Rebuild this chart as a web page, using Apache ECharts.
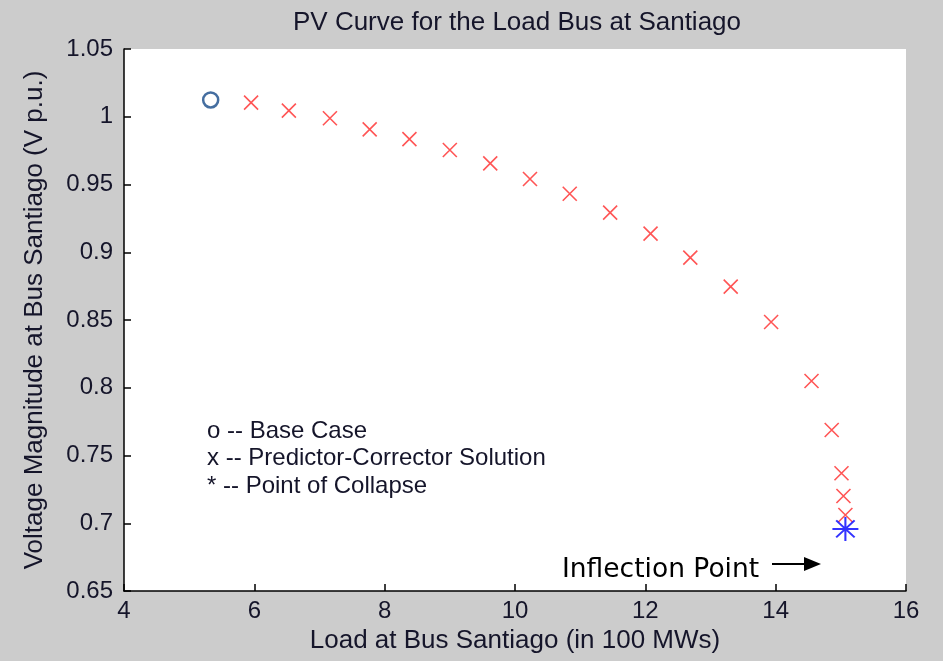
<!DOCTYPE html>
<html lang="en">
<head>
    <meta charset="utf-8">
    <title>PV Curve</title>
    <script src="https://cdn.jsdelivr.net/npm/echarts@6/dist/echarts.min.js"></script>
    <style>
        html, body { margin: 0; padding: 0; background: #cccccc; }
        #main { width: 943px; height: 661px; }
    </style>
</head>
<body>
    <div id="main"></div>
<script>
    // base case point (o)
    var baseX = [5.33];
    var baseY = [1.0124];
    // predictor-corrector solutions (x)
    var pcX = [5.95, 6.53, 7.16, 7.77, 8.38, 9.00, 9.62, 10.23, 10.84, 11.46,
               12.08, 12.69, 13.31, 13.93, 14.55, 14.86, 15.01, 15.04, 15.07];
    var pcY = [1.0104, 1.0045, 0.9989, 0.9907, 0.9835, 0.9755, 0.9656, 0.9541, 0.9432, 0.9292,
               0.9137, 0.8960, 0.8746, 0.8485, 0.8050, 0.7688, 0.7369, 0.7201, 0.7061];
    // point of collapse (*)
    var collapseX = [15.07];
    var collapseY = [0.6958];

    var xTicks = [4, 6, 8, 10, 12, 14, 16];
    var yTicks = [0.65, 0.7, 0.75, 0.8, 0.85, 0.9, 0.95, 1, 1.05];

    function pairs(xs, ys) {
        var out = [];
        for (var i = 0; i < xs.length; i++) out.push([xs[i], ys[i]]);
        return out;
    }

    var font = '"Liberation Sans", Arial, sans-serif';
    var textColor = '#15152a';

    var myChart = echarts.init(document.getElementById('main'));
    var option = {
        backgroundColor: '#cccccc',
        animation: false,
        title: {
            text: 'PV Curve for the Load Bus at Santiago',
            left: 512,
            textAlign: 'center',
            top: 5,
            textStyle: { fontFamily: font, fontSize: 26, fontWeight: 'normal', color: textColor }
        },
        grid: {
            left: 124, right: 37, top: 49, bottom: 70,
            show: true, backgroundColor: '#ffffff', borderWidth: 0
        },
        xAxis: {
            type: 'value',
            min: xTicks[0], max: xTicks[xTicks.length - 1], interval: 2,
            name: 'Load at Bus Santiago (in 100 MWs)',
            nameLocation: 'middle', nameGap: 37,
            nameTextStyle: { fontFamily: font, fontSize: 26, color: textColor },
            axisLine: { lineStyle: { color: '#000', width: 1.5 } },
            axisTick: { inside: true, length: 7, lineStyle: { color: '#000', width: 1.5 } },
            axisLabel: { fontFamily: font, fontSize: 24, color: textColor, margin: 8 },
            splitLine: { show: false }
        },
        yAxis: {
            type: 'value',
            min: yTicks[0], max: yTicks[yTicks.length - 1], interval: 0.05,
            name: 'Voltage Magnitude at Bus Santiago (V p.u.)',
            nameLocation: 'middle', nameGap: 76,
            nameTextStyle: { fontFamily: font, fontSize: 26, color: textColor },
            axisLine: { show: true, lineStyle: { color: '#000', width: 1.5 } },
            axisTick: { show: true, inside: true, length: 7, lineStyle: { color: '#000', width: 1.5 } },
            axisLabel: {
                fontFamily: font, fontSize: 24, color: textColor, margin: 11,
                formatter: function (v) { return String(+v.toFixed(2)); }
            },
            splitLine: { show: false }
        },
        graphic: [
            { type: 'text', left: 207, top: 419, style: { text: 'o -- Base Case', font: '24px ' + font, fill: textColor } },
            { type: 'text', left: 207, top: 446, style: { text: 'x -- Predictor-Corrector Solution', font: '24px ' + font, fill: textColor } },
            { type: 'text', left: 207, top: 474, style: { text: '* -- Point of Collapse', font: '24px ' + font, fill: textColor } },
            { type: 'text', left: 562, top: 557, style: { text: 'Inflection Point', font: '26.5px "DejaVu Sans", Verdana, sans-serif', fill: '#000' } },
            { type: 'line', shape: { x1: 772, y1: 564, x2: 808, y2: 564 }, style: { stroke: '#000', lineWidth: 2 } },
            { type: 'polygon', shape: { points: [[804, 557], [821, 564], [804, 571]] }, style: { fill: '#000' } }
        ],
        series: [{
            type: 'scatter',
            data: pairs(baseX, baseY),
            symbol: 'circle',
            symbolSize: 15,
            itemStyle: { color: 'rgba(0,0,0,0)', borderColor: '#164a88', borderWidth: 2.5 }
        }, {
            type: 'scatter',
            data: pairs(pcX, pcY),
            symbol: 'path://M0,0L10,10M10,0L0,10',
            symbolSize: 14,
            itemStyle: { color: 'rgba(0,0,0,0)', borderColor: '#ff2a2a', borderWidth: 1.6 }
        }, {
            type: 'scatter',
            data: pairs(collapseX, collapseY),
            symbol: 'path://M0,12L24,12M12,0L12,24M3.5,3.5L20.5,20.5M20.5,3.5L3.5,20.5',
            symbolSize: [26, 24],
            symbolKeepAspect: false,
            itemStyle: { color: 'rgba(0,0,0,0)', borderColor: '#0000ff', borderWidth: 2 }
        }]
    };
    myChart.setOption(option);
</script>
</body>
</html>
